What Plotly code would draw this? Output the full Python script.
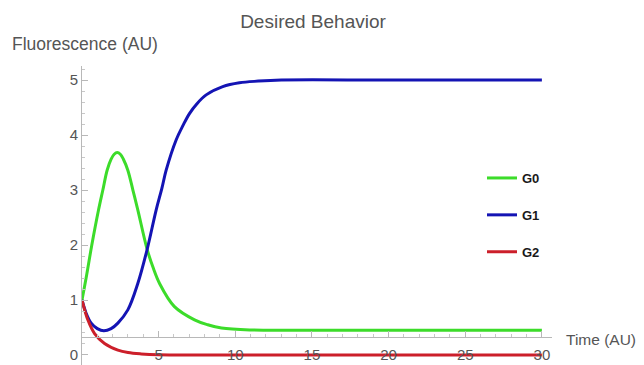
import plotly.graph_objects as go

# ---- data ----
t_g0 = [0, 0.3, 0.64, 1.08, 1.36, 1.64, 1.9, 2.1, 2.3, 2.5, 2.7, 2.99, 3.32, 3.64, 4.25, 4.65, 5.06, 6.03, 7.34, 8.2, 9.1, 11, 14, 20, 30]
g0 = [1.0, 1.45, 2.0, 2.64, 3.0, 3.36, 3.56, 3.65, 3.68, 3.65, 3.56, 3.36, 3.0, 2.64, 1.92, 1.58, 1.30, 0.88, 0.64, 0.55, 0.49, 0.455, 0.45, 0.45, 0.45]

t_g1 = [0, 0.27, 0.6, 1.0, 1.42, 1.9, 2.34, 2.99, 3.64, 4.25, 4.84, 5.21, 5.49, 6.14, 6.6, 7.01, 7.5, 8.1, 9.18, 10.27, 11.5, 13, 20, 30]
g1 = [1.0, 0.76, 0.58, 0.48, 0.44, 0.48, 0.58, 0.82, 1.30, 1.92, 2.64, 3.03, 3.36, 3.91, 4.18, 4.39, 4.57, 4.73, 4.88, 4.95, 4.98, 5.0, 5.0, 5.0]

t_g2 = [0, 0.38, 0.82, 1.47, 2.34, 3.0, 3.86, 5, 10, 30]
g2 = [1.0, 0.64, 0.39, 0.21, 0.09, 0.045, 0.02, 0.005, 0.0, 0.0]

series_names = ["G0", "G1", "G2"]
colors = ["#3cdc2a", "#1414b4", "#cc1f2a"]

x_ticks = [5, 10, 15, 20, 25, 30]
y_ticks = [0, 1, 2, 3, 4, 5]

x_range = [0, 30.66]
y_range = [-0.182, 5.255]
x_axis_crossing = 0.32

FONT = "Liberation Sans, Arial, sans-serif"
GRAY = "#555555"

fig = go.Figure()
for name, tx, vy, c in zip(series_names, [t_g0, t_g1, t_g2], [g0, g1, g2], colors):
    fig.add_trace(go.Scatter(
        x=tx, y=vy, mode="lines", name=name, legendgroup=name,
        line=dict(color=c, width=3, shape="spline", smoothing=1.0),
    ))

# page body has an 8px margin: compensate so the figure fills the window
OFF = 8
W, H = 644 - OFF, 365 - OFF
ml, mr, mt, mb = 74, 92, 58, 0
pw, ph = W - ml - mr, H - mt - mb

def px_to_paper_x(sx):
    return (sx - OFF - ml) / pw

def px_to_paper_y(sy):
    return (H - mb - (sy - OFF)) / ph

xpos = (x_axis_crossing - y_range[0]) / (y_range[1] - y_range[0])

fig.update_layout(
    width=W, height=H,
    margin=dict(l=ml, r=mr, t=mt, b=mb, autoexpand=False),
    paper_bgcolor="white", plot_bgcolor="white",
    font=dict(family=FONT, color=GRAY),
    title=dict(text="Desired Behavior", x=(313 - OFF) / W, xanchor="center",
               y=1 - (21 - OFF) / H, yanchor="middle",
               font=dict(size=19, color=GRAY, family=FONT)),
    xaxis=dict(range=x_range, anchor="free", position=xpos,
               showline=True, linecolor="#b8b8b8", linewidth=1,
               ticks="inside", ticklen=6, tickcolor="#b8b8b8",
               tickvals=x_ticks, ticktext=[str(v) for v in x_ticks],
               tickfont=dict(size=15, color=GRAY), ticklabelstandoff=4,
               minor=dict(dtick=1, tick0=0, ticks="inside", ticklen=3, tickcolor="#c8c8c8"),
               showgrid=False, zeroline=False, automargin=False),
    yaxis=dict(range=y_range, showline=True, linecolor="#b8b8b8", linewidth=1,
               ticks="inside", ticklen=6, tickcolor="#b8b8b8",
               tickvals=y_ticks, ticktext=[str(v) for v in y_ticks],
               tickfont=dict(size=15, color=GRAY),
               minor=dict(dtick=0.2, tick0=0, ticks="inside", ticklen=3, tickcolor="#c8c8c8"),
               showgrid=False, zeroline=False, automargin=False),
    legend=dict(x=px_to_paper_x(482), y=px_to_paper_y(163), xanchor="left", yanchor="top",
                font=dict(size=13, color="#1a1a1a", family=FONT, weight="bold"),
                tracegroupgap=17, traceorder="grouped", bgcolor="rgba(0,0,0,0)",
                itemwidth=30),
    annotations=[
        dict(text="Fluorescence (AU)", xref="paper", yref="paper",
             x=px_to_paper_x(10), y=px_to_paper_y(44), xanchor="left", yanchor="middle",
             showarrow=False, font=dict(size=17.5, color=GRAY, family=FONT)),
        dict(text="Time (AU)", xref="paper", yref="paper",
             x=px_to_paper_x(564), y=px_to_paper_y(339), xanchor="left", yanchor="middle",
             showarrow=False, font=dict(size=15.5, color=GRAY, family=FONT)),
    ],
)

fig.write_html("out.html")
